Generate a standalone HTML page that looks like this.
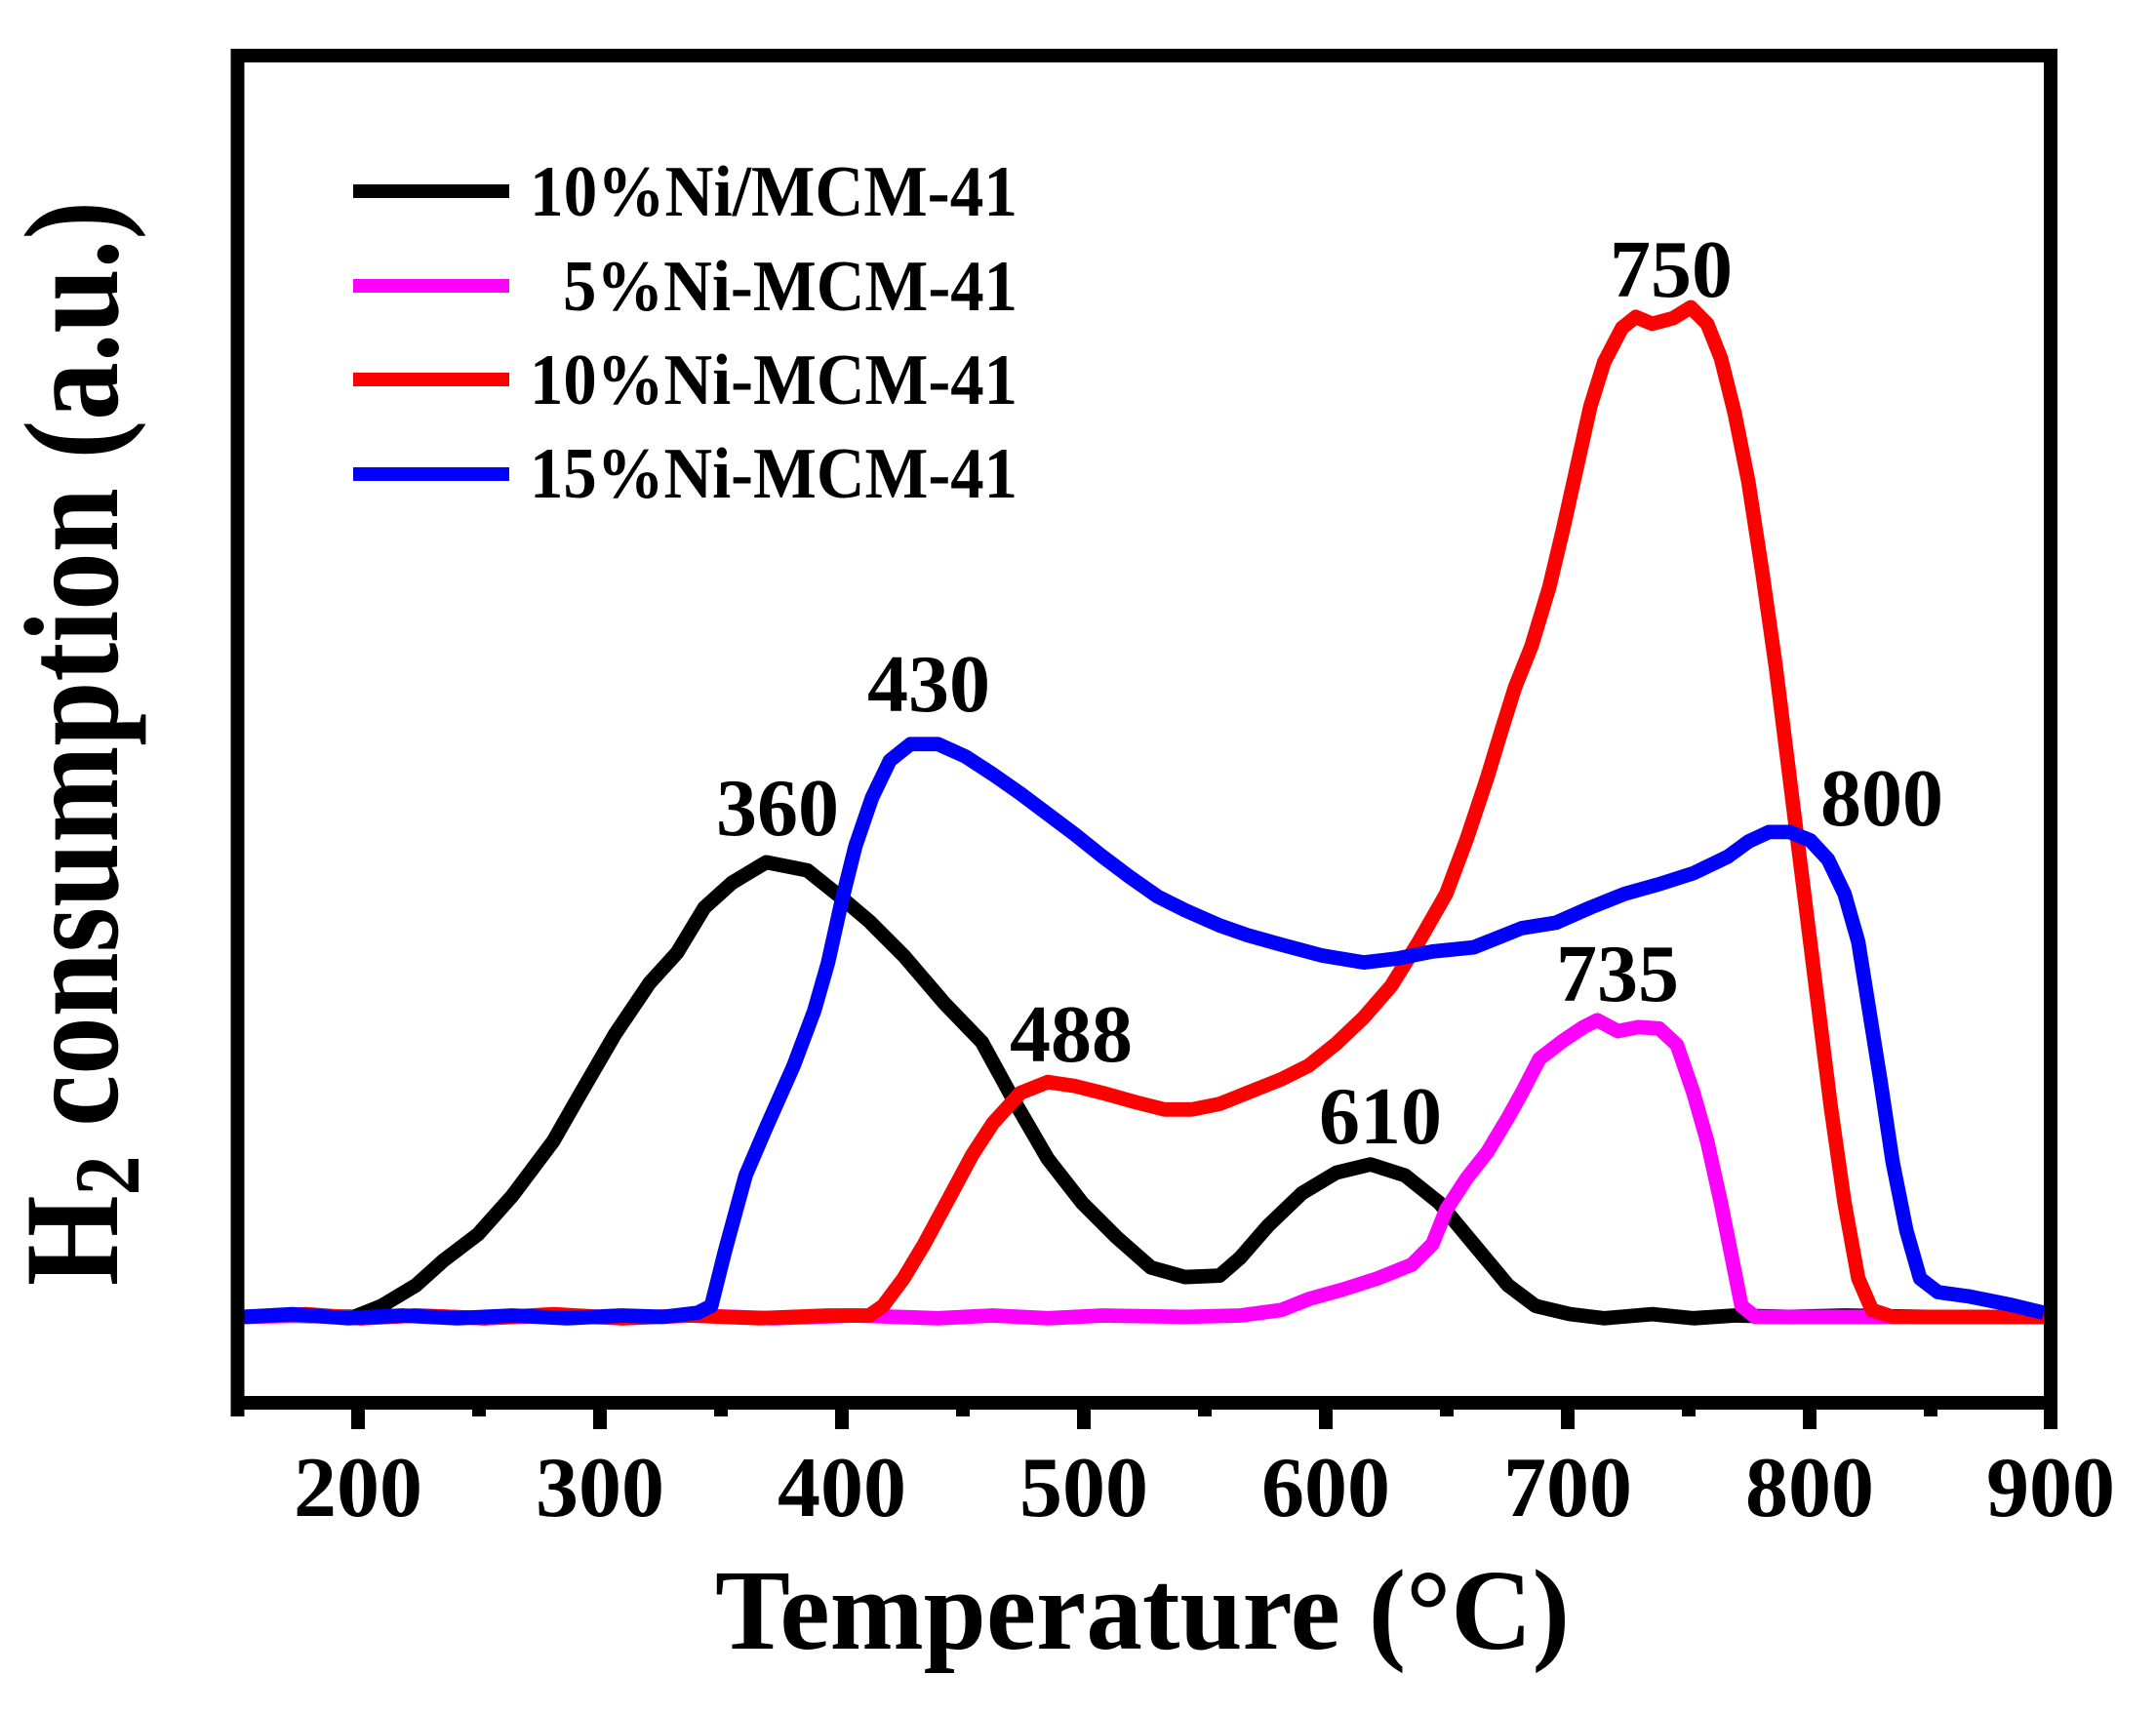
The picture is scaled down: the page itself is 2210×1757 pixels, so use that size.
<!DOCTYPE html>
<html><head><meta charset="utf-8"><style>html,body{margin:0;padding:0;background:#fff}svg{display:block}</style></head>
<body>
<svg width="2210" height="1757" viewBox="0 0 2210 1757" xmlns="http://www.w3.org/2000/svg" font-family="'Liberation Serif', serif" font-weight="bold">
<rect width="2210" height="1757" fill="#fff"/>
<g transform="translate(4,-6) scale(1.408)" fill="none" stroke-width="10.5" stroke-linejoin="round" stroke-linecap="butt">
<polyline stroke="#000" points="175,963 200,962 255,963 275,955 300,940 320,922 345,903 370,875 400,835 420,800 445,757 470,720 490,698 510,665 530,647 555,632 585,638 610,658 630,675 655,700 685,735 712,763 735,805 760,848 785,880 810,905 835,927 860,934 885,933 900,920 920,897 945,873 970,858 995,852 1020,860 1045,880 1070,910 1095,940 1115,955 1140,961 1165,964 1200,961 1230,964 1260,962 1300,963 1340,962 1400,963 1485,963"/>
<polyline stroke="#ff00ff" points="175,963 220,962 260,964 300,962 350,964 400,962 450,964 500,962 560,964 620,962 680,964 720,962 760,964 800,962 860,963 900,962 930,958 950,950 975,943 1000,935 1025,925 1040,910 1050,885 1065,862 1080,843 1095,818 1105,800 1118,775 1135,762 1150,752 1160,747 1175,755 1190,752 1205,753 1218,765 1230,800 1240,835 1250,880 1258,920 1265,955 1275,963 1485,963"/>
<polyline stroke="#ff0000" points="175,963 220,961 260,964 300,962 350,964 400,961 450,964 500,962 550,964 600,962 630,962 640,955 655,935 670,910 690,873 705,845 720,822 740,800 760,792 780,795 800,800 825,807 845,812 865,812 885,808 905,800 930,790 950,780 970,764 990,745 1010,722 1030,690 1050,655 1065,615 1080,570 1090,537 1100,505 1112,475 1125,432 1135,390 1145,345 1155,300 1165,268 1178,243 1188,235 1200,240 1215,236 1228,228 1240,240 1250,265 1260,305 1270,355 1280,420 1290,490 1300,570 1310,650 1320,730 1330,810 1340,880 1350,935 1360,958 1375,963 1485,963"/>
<polyline stroke="#0000ff" points="175,963 210,961 250,964 290,962 330,964 370,962 410,964 450,962 480,963 505,960 515,955 525,915 540,860 555,825 575,780 590,740 600,705 610,660 620,620 632,585 645,558 660,546 680,546 700,555 720,568 740,582 760,597 780,612 800,628 820,643 840,657 860,667 885,678 905,685 930,692 960,700 990,705 1015,702 1040,697 1070,694 1085,688 1105,680 1130,676 1155,665 1180,655 1205,648 1230,640 1255,628 1270,617 1285,610 1300,610 1315,616 1328,630 1340,655 1350,690 1358,740 1366,790 1375,850 1385,900 1395,935 1408,945 1430,948 1460,954 1485,960"/>
</g>
<rect x="243.5" y="57" width="1858.5" height="1381" fill="none" stroke="#000" stroke-width="14"/>
<g stroke="#000" stroke-width="14">
<line x1="243.5" y1="1438" x2="243.5" y2="1452"/>
<line x1="367" y1="1438" x2="367" y2="1465"/>
<line x1="491" y1="1438" x2="491" y2="1452"/>
<line x1="615" y1="1438" x2="615" y2="1465"/>
<line x1="739" y1="1438" x2="739" y2="1452"/>
<line x1="863" y1="1438" x2="863" y2="1465"/>
<line x1="987" y1="1438" x2="987" y2="1452"/>
<line x1="1111" y1="1438" x2="1111" y2="1465"/>
<line x1="1235" y1="1438" x2="1235" y2="1452"/>
<line x1="1359" y1="1438" x2="1359" y2="1465"/>
<line x1="1483" y1="1438" x2="1483" y2="1452"/>
<line x1="1607" y1="1438" x2="1607" y2="1465"/>
<line x1="1731" y1="1438" x2="1731" y2="1452"/>
<line x1="1855" y1="1438" x2="1855" y2="1465"/>
<line x1="1979" y1="1438" x2="1979" y2="1452"/>
<line x1="2102" y1="1438" x2="2102" y2="1465"/>
</g>
<g font-size="88" text-anchor="middle" fill="#000">
<text x="367" y="1554">200</text>
<text x="615" y="1554">300</text>
<text x="863" y="1554">400</text>
<text x="1111" y="1554">500</text>
<text x="1359" y="1554">600</text>
<text x="1607" y="1554">700</text>
<text x="1855" y="1554">800</text>
<text x="2102" y="1554">900</text>
</g>
<text x="733" y="1690" font-size="118" textLength="876" lengthAdjust="spacingAndGlyphs">Temperature (°C)</text>
<text transform="translate(120,1318) rotate(-90)" font-size="138" textLength="1112" lengthAdjust="spacingAndGlyphs">H<tspan font-size="95" dy="22">2</tspan><tspan dy="-22"> consumption (a.u.)</tspan></text>
<g stroke-width="14">
<line x1="362" y1="196" x2="522" y2="196" stroke="#000"/>
<line x1="362" y1="293" x2="522" y2="293" stroke="#ff00ff"/>
<line x1="362" y1="389" x2="522" y2="389" stroke="#ff0000"/>
<line x1="362" y1="486" x2="522" y2="486" stroke="#0000ff"/>
</g>
<g font-size="74" fill="#000">
<text x="543" y="221" textLength="500" lengthAdjust="spacingAndGlyphs">10%Ni/MCM-41</text>
<text x="577" y="318" textLength="466" lengthAdjust="spacingAndGlyphs">5%Ni-MCM-41</text>
<text x="543" y="414" textLength="500" lengthAdjust="spacingAndGlyphs">10%Ni-MCM-41</text>
<text x="543" y="510" textLength="500" lengthAdjust="spacingAndGlyphs">15%Ni-MCM-41</text>
</g>
<g font-size="84" text-anchor="middle" fill="#000">
<text x="797" y="856">360</text>
<text x="952" y="729">430</text>
<text x="1098" y="1088">488</text>
<text x="1415" y="1172">610</text>
<text x="1658" y="1026">735</text>
<text x="1713" y="304">750</text>
<text x="1929" y="846">800</text>
</g>
</svg>
</body></html>
